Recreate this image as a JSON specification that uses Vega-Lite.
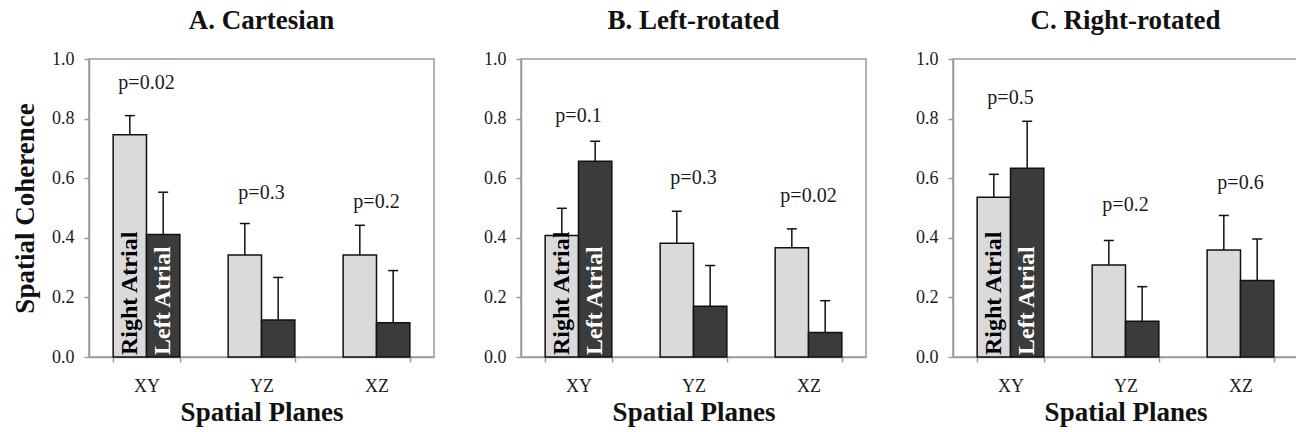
{
  "$schema": "https://vega.github.io/schema/vega-lite/v6.json",
  "padding": {"left": 10, "top": 6, "right": 4, "bottom": 4},
  "background": "white",
  "config": {
    "font": "Liberation Serif",
    "view": {"stroke": "#9a9a9a", "strokeWidth": 1.5},
    "axis": {"labelFont": "Liberation Serif", "labelFontSize": 18, "labelColor": "#1a1a1a", "titleFont": "Liberation Serif", "titleFontSize": 27, "titleFontWeight": "bold", "titleColor": "#111111", "domainColor": "#9a9a9a", "tickColor": "#9a9a9a", "domainWidth": 1.5, "tickWidth": 1.5, "grid": false, "tickSize": 5},
    "axisY": {"labelPadding": 10, "titlePadding": 12},
    "axisX": {"labelAngle": 0, "tickBand": "extent", "labelPadding": 15, "titlePadding": 4},
    "title": {"font": "Liberation Serif", "fontSize": 27, "fontWeight": "bold", "color": "#111111", "anchor": "middle", "frame": "group", "offset": 15},
    "concat": {"spacing": 47}
  },
  "datasets": {
    "bars": [
      {"panel": "A", "plane": "XY", "group": "Right Atrial", "value": 0.746, "upper": 0.810},
      {"panel": "A", "plane": "XY", "group": "Left Atrial", "value": 0.411, "upper": 0.553},
      {"panel": "A", "plane": "YZ", "group": "Right Atrial", "value": 0.342, "upper": 0.448},
      {"panel": "A", "plane": "YZ", "group": "Left Atrial", "value": 0.124, "upper": 0.267},
      {"panel": "A", "plane": "XZ", "group": "Right Atrial", "value": 0.342, "upper": 0.442},
      {"panel": "A", "plane": "XZ", "group": "Left Atrial", "value": 0.115, "upper": 0.290},
      {"panel": "B", "plane": "XY", "group": "Right Atrial", "value": 0.408, "upper": 0.499},
      {"panel": "B", "plane": "XY", "group": "Left Atrial", "value": 0.657, "upper": 0.724},
      {"panel": "B", "plane": "YZ", "group": "Right Atrial", "value": 0.382, "upper": 0.489},
      {"panel": "B", "plane": "YZ", "group": "Left Atrial", "value": 0.170, "upper": 0.307},
      {"panel": "B", "plane": "XZ", "group": "Right Atrial", "value": 0.367, "upper": 0.430},
      {"panel": "B", "plane": "XZ", "group": "Left Atrial", "value": 0.082, "upper": 0.189},
      {"panel": "C", "plane": "XY", "group": "Right Atrial", "value": 0.536, "upper": 0.613},
      {"panel": "C", "plane": "XY", "group": "Left Atrial", "value": 0.633, "upper": 0.791},
      {"panel": "C", "plane": "YZ", "group": "Right Atrial", "value": 0.309, "upper": 0.391},
      {"panel": "C", "plane": "YZ", "group": "Left Atrial", "value": 0.120, "upper": 0.236},
      {"panel": "C", "plane": "XZ", "group": "Right Atrial", "value": 0.359, "upper": 0.475},
      {"panel": "C", "plane": "XZ", "group": "Left Atrial", "value": 0.257, "upper": 0.396}
    ],
    "plabels": [
      {"panel": "A", "plane": "XY", "label": "p=0.02", "y": 0.92},
      {"panel": "A", "plane": "YZ", "label": "p=0.3", "y": 0.55},
      {"panel": "A", "plane": "XZ", "label": "p=0.2", "y": 0.52},
      {"panel": "B", "plane": "XY", "label": "p=0.1", "y": 0.81},
      {"panel": "B", "plane": "YZ", "label": "p=0.3", "y": 0.60},
      {"panel": "B", "plane": "XZ", "label": "p=0.02", "y": 0.54},
      {"panel": "C", "plane": "XY", "label": "p=0.5", "y": 0.87},
      {"panel": "C", "plane": "YZ", "label": "p=0.2", "y": 0.51},
      {"panel": "C", "plane": "XZ", "label": "p=0.6", "y": 0.585}
    ],
    "inner": [
      {"panel": "A", "plane": "XY", "group": "Right Atrial", "label": "Right Atrial"},
      {"panel": "A", "plane": "XY", "group": "Left Atrial", "label": "Left Atrial"},
      {"panel": "B", "plane": "XY", "group": "Right Atrial", "label": "Right Atrial"},
      {"panel": "B", "plane": "XY", "group": "Left Atrial", "label": "Left Atrial"},
      {"panel": "C", "plane": "XY", "group": "Right Atrial", "label": "Right Atrial"},
      {"panel": "C", "plane": "XY", "group": "Left Atrial", "label": "Left Atrial"}
    ]
  },
  "hconcat": [
    {
      "title": "A. Cartesian",
      "width": 345, "height": 298,
      "encoding": {
        "x": {"field": "plane", "type": "nominal", "sort": ["XY", "YZ", "XZ"], "scale": {"paddingInner": 0.42, "paddingOuter": 0.21}, "title": "Spatial Planes"}
      },
      "layer": [
        {"data": {"name": "bars"}, "transform": [{"filter": "datum.panel === 'A'"}],
         "mark": {"type": "bar", "stroke": "#111111", "strokeWidth": 1.5},
         "encoding": {
           "xOffset": {"field": "group", "sort": ["Right Atrial", "Left Atrial"], "scale": {"paddingInner": 0}},
           "y": {"field": "value", "type": "quantitative", "scale": {"domain": [0, 1]}, "title": "Spatial Coherence", "axis": {"values": [0, 0.2, 0.4, 0.6, 0.8, 1], "format": ".1f"}},
           "fill": {"field": "group", "scale": {"domain": ["Right Atrial", "Left Atrial"], "range": ["#dadada", "#3b3b3b"]}, "legend": null}
         }},
        {"data": {"name": "bars"}, "transform": [{"filter": "datum.panel === 'A'"}],
         "mark": {"type": "rule", "stroke": "#111111", "strokeWidth": 1.5},
         "encoding": {
           "xOffset": {"field": "group", "sort": ["Right Atrial", "Left Atrial"]},
           "y": {"field": "value", "type": "quantitative", "title": "Spatial Coherence", "axis": {"values": [0, 0.2, 0.4, 0.6, 0.8, 1], "format": ".1f"}},
           "y2": {"field": "upper"}
         }},
        {"data": {"name": "bars"}, "transform": [{"filter": "datum.panel === 'A'"}],
         "mark": {"type": "tick", "orient": "horizontal", "size": 10, "thickness": 1.5, "color": "#111111", "opacity": 1},
         "encoding": {
           "xOffset": {"field": "group", "sort": ["Right Atrial", "Left Atrial"]},
           "y": {"field": "upper", "type": "quantitative", "title": "Spatial Coherence", "axis": {"values": [0, 0.2, 0.4, 0.6, 0.8, 1], "format": ".1f"}}
         }},
        {"data": {"name": "plabels"}, "transform": [{"filter": "datum.panel === 'A'"}],
         "mark": {"type": "text", "font": "Liberation Serif", "fontSize": 20, "color": "#1a1a1a", "baseline": "middle"},
         "encoding": {
           "y": {"field": "y", "type": "quantitative", "title": "Spatial Coherence", "axis": {"values": [0, 0.2, 0.4, 0.6, 0.8, 1], "format": ".1f"}},
           "text": {"field": "label"}
         }},
        {"data": {"name": "inner"}, "transform": [{"filter": "datum.panel === 'A'"}],
         "mark": {"type": "text", "font": "Liberation Serif", "fontSize": 24, "fontWeight": "bold", "angle": 270, "align": "left", "baseline": "middle", "dx": 2},
         "encoding": {
           "xOffset": {"field": "group", "sort": ["Right Atrial", "Left Atrial"]},
           "y": {"datum": 0, "type": "quantitative", "title": "Spatial Coherence", "axis": {"values": [0, 0.2, 0.4, 0.6, 0.8, 1], "format": ".1f"}},
           "text": {"field": "label"},
           "color": {"condition": {"test": "datum.group === 'Left Atrial'", "value": "#ffffff"}, "value": "#000000"}
         }}
      ]
    },
    {
      "title": "B. Left-rotated",
      "width": 345, "height": 298,
      "encoding": {
        "x": {"field": "plane", "type": "nominal", "sort": ["XY", "YZ", "XZ"], "scale": {"paddingInner": 0.42, "paddingOuter": 0.21}, "title": "Spatial Planes"}
      },
      "layer": [
        {"data": {"name": "bars"}, "transform": [{"filter": "datum.panel === 'B'"}],
         "mark": {"type": "bar", "stroke": "#111111", "strokeWidth": 1.5},
         "encoding": {
           "xOffset": {"field": "group", "sort": ["Right Atrial", "Left Atrial"], "scale": {"paddingInner": 0}},
           "y": {"field": "value", "type": "quantitative", "scale": {"domain": [0, 1]}, "title": null, "axis": {"values": [0, 0.2, 0.4, 0.6, 0.8, 1], "format": ".1f"}},
           "fill": {"field": "group", "scale": {"domain": ["Right Atrial", "Left Atrial"], "range": ["#dadada", "#3b3b3b"]}, "legend": null}
         }},
        {"data": {"name": "bars"}, "transform": [{"filter": "datum.panel === 'B'"}],
         "mark": {"type": "rule", "stroke": "#111111", "strokeWidth": 1.5},
         "encoding": {
           "xOffset": {"field": "group", "sort": ["Right Atrial", "Left Atrial"]},
           "y": {"field": "value", "type": "quantitative", "title": null, "axis": {"values": [0, 0.2, 0.4, 0.6, 0.8, 1], "format": ".1f"}},
           "y2": {"field": "upper"}
         }},
        {"data": {"name": "bars"}, "transform": [{"filter": "datum.panel === 'B'"}],
         "mark": {"type": "tick", "orient": "horizontal", "size": 10, "thickness": 1.5, "color": "#111111", "opacity": 1},
         "encoding": {
           "xOffset": {"field": "group", "sort": ["Right Atrial", "Left Atrial"]},
           "y": {"field": "upper", "type": "quantitative", "title": null, "axis": {"values": [0, 0.2, 0.4, 0.6, 0.8, 1], "format": ".1f"}}
         }},
        {"data": {"name": "plabels"}, "transform": [{"filter": "datum.panel === 'B'"}],
         "mark": {"type": "text", "font": "Liberation Serif", "fontSize": 20, "color": "#1a1a1a", "baseline": "middle"},
         "encoding": {
           "y": {"field": "y", "type": "quantitative", "title": null, "axis": {"values": [0, 0.2, 0.4, 0.6, 0.8, 1], "format": ".1f"}},
           "text": {"field": "label"}
         }},
        {"data": {"name": "inner"}, "transform": [{"filter": "datum.panel === 'B'"}],
         "mark": {"type": "text", "font": "Liberation Serif", "fontSize": 24, "fontWeight": "bold", "angle": 270, "align": "left", "baseline": "middle", "dx": 2},
         "encoding": {
           "xOffset": {"field": "group", "sort": ["Right Atrial", "Left Atrial"]},
           "y": {"datum": 0, "type": "quantitative", "title": null, "axis": {"values": [0, 0.2, 0.4, 0.6, 0.8, 1], "format": ".1f"}},
           "text": {"field": "label"},
           "color": {"condition": {"test": "datum.group === 'Left Atrial'", "value": "#ffffff"}, "value": "#000000"}
         }}
      ]
    },
    {
      "title": "C. Right-rotated",
      "width": 345, "height": 298,
      "encoding": {
        "x": {"field": "plane", "type": "nominal", "sort": ["XY", "YZ", "XZ"], "scale": {"paddingInner": 0.42, "paddingOuter": 0.21}, "title": "Spatial Planes"}
      },
      "layer": [
        {"data": {"name": "bars"}, "transform": [{"filter": "datum.panel === 'C'"}],
         "mark": {"type": "bar", "stroke": "#111111", "strokeWidth": 1.5},
         "encoding": {
           "xOffset": {"field": "group", "sort": ["Right Atrial", "Left Atrial"], "scale": {"paddingInner": 0}},
           "y": {"field": "value", "type": "quantitative", "scale": {"domain": [0, 1]}, "title": null, "axis": {"values": [0, 0.2, 0.4, 0.6, 0.8, 1], "format": ".1f"}},
           "fill": {"field": "group", "scale": {"domain": ["Right Atrial", "Left Atrial"], "range": ["#dadada", "#3b3b3b"]}, "legend": null}
         }},
        {"data": {"name": "bars"}, "transform": [{"filter": "datum.panel === 'C'"}],
         "mark": {"type": "rule", "stroke": "#111111", "strokeWidth": 1.5},
         "encoding": {
           "xOffset": {"field": "group", "sort": ["Right Atrial", "Left Atrial"]},
           "y": {"field": "value", "type": "quantitative", "title": null, "axis": {"values": [0, 0.2, 0.4, 0.6, 0.8, 1], "format": ".1f"}},
           "y2": {"field": "upper"}
         }},
        {"data": {"name": "bars"}, "transform": [{"filter": "datum.panel === 'C'"}],
         "mark": {"type": "tick", "orient": "horizontal", "size": 10, "thickness": 1.5, "color": "#111111", "opacity": 1},
         "encoding": {
           "xOffset": {"field": "group", "sort": ["Right Atrial", "Left Atrial"]},
           "y": {"field": "upper", "type": "quantitative", "title": null, "axis": {"values": [0, 0.2, 0.4, 0.6, 0.8, 1], "format": ".1f"}}
         }},
        {"data": {"name": "plabels"}, "transform": [{"filter": "datum.panel === 'C'"}],
         "mark": {"type": "text", "font": "Liberation Serif", "fontSize": 20, "color": "#1a1a1a", "baseline": "middle"},
         "encoding": {
           "y": {"field": "y", "type": "quantitative", "title": null, "axis": {"values": [0, 0.2, 0.4, 0.6, 0.8, 1], "format": ".1f"}},
           "text": {"field": "label"}
         }},
        {"data": {"name": "inner"}, "transform": [{"filter": "datum.panel === 'C'"}],
         "mark": {"type": "text", "font": "Liberation Serif", "fontSize": 24, "fontWeight": "bold", "angle": 270, "align": "left", "baseline": "middle", "dx": 2},
         "encoding": {
           "xOffset": {"field": "group", "sort": ["Right Atrial", "Left Atrial"]},
           "y": {"datum": 0, "type": "quantitative", "title": null, "axis": {"values": [0, 0.2, 0.4, 0.6, 0.8, 1], "format": ".1f"}},
           "text": {"field": "label"},
           "color": {"condition": {"test": "datum.group === 'Left Atrial'", "value": "#ffffff"}, "value": "#000000"}
         }}
      ]
    }
  ]
}
